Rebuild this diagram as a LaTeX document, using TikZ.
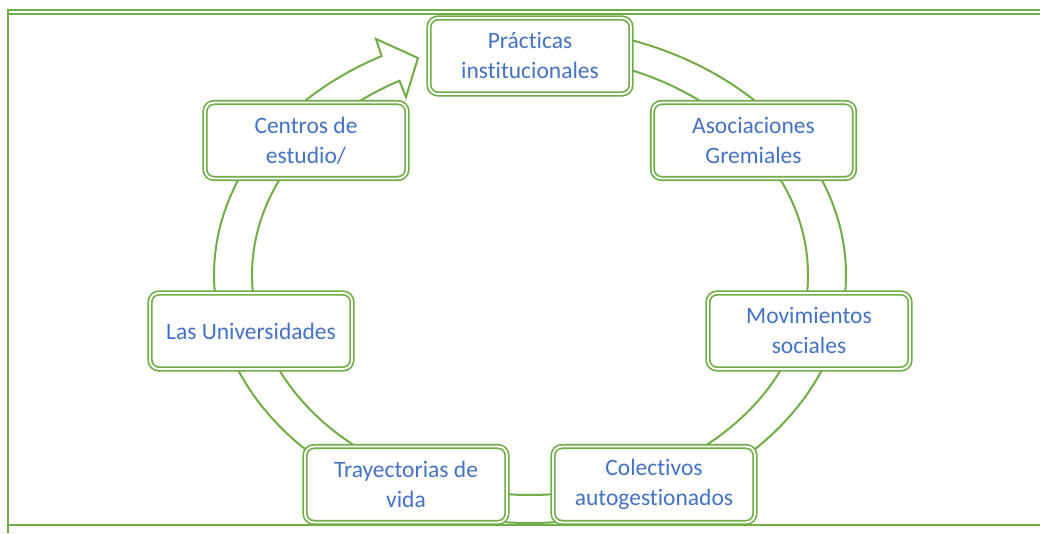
\documentclass[tikz,border=0pt]{standalone}
\usepackage{fontspec}
\setmainfont{Carlito}[Ligatures=NoCommon]
\definecolor{ogreen}{HTML}{70AD47}
\definecolor{oblue}{HTML}{4472C4}
\begin{document}
\begin{tikzpicture}[x=1pt,y=1pt,
  cbox/.style={draw=ogreen, line width=1.7pt, double=white, double distance=1.9pt,
    rounded corners=9pt, fill=white, minimum width=202pt, minimum height=76pt,
    inner sep=0pt, align=center, text=oblue, font=\fontsize{23.5}{30}\selectfont},
  ringline/.style={draw=ogreen, line width=2pt, line join=miter, fill=white},
  frameline/.style={draw=ogreen, line width=2.2pt}]
\useasboundingbox (0,0) rectangle (1040,533);
% frame
\coordinate (ta1) at (7,523);   \coordinate (tb1) at (1040,523);
\coordinate (ta2) at (9,519);   \coordinate (tb2) at (1040,519);
\coordinate (la) at (8,524);    \coordinate (lb) at (8,0);
\coordinate (ba) at (8,8);      \coordinate (bb) at (1040,8);
\draw[frameline] (ta1) -- (tb1);
\draw[frameline] (ta2) -- (tb2);
\draw[frameline] (la) -- (lb);
\draw[frameline] (ba) -- (bb);
% circular arrow band
\draw[ringline]
  plot[domain=118:450, samples=240] ({530+316*cos(\x)},{258+248*sin(\x)})
  -- plot[domain=450:118, samples=240] ({530+278*cos(\x)},{258+220*sin(\x)})
  -- (406,436) -- (418,475) -- (376,494) -- cycle;
% boxes
\node[cbox] (pract)   at (530,477)   {Prácticas\\institucionales};
\node[cbox] (asoc)    at (753.5,392.5) {Asociaciones\\Gremiales};
\node[cbox] (mov)     at (809,202)   {Movimientos\\sociales};
\node[cbox] (colect)  at (654,48.5)  {Colectivos\\autogestionados};
\node[cbox] (tray)    at (406,48.5)  {Trayectorias de\\vida};
\node[cbox] (univ)    at (251,202)   {Las Universidades};
\node[cbox] (centros) at (306,392.5) {Centros de\\estudio/};
\end{tikzpicture}
\end{document}
